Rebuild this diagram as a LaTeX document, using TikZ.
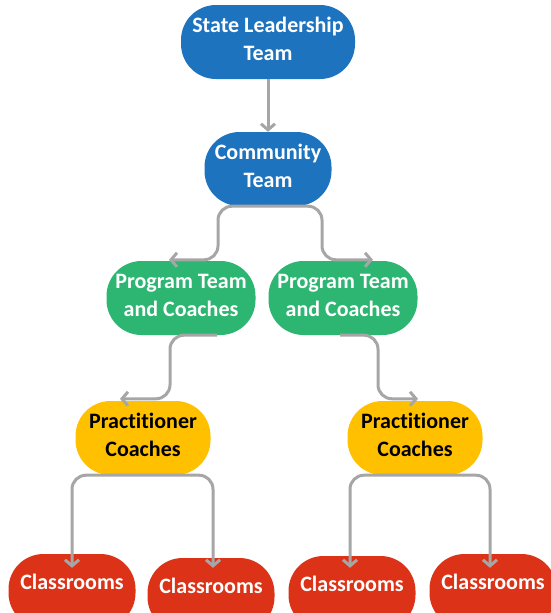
\documentclass[tikz,border=0pt]{standalone}
\usepackage{fontspec}
\setmainfont{Carlito}[Ligatures=NoCommon]
\usetikzlibrary{arrows.meta}

\definecolor{teamblue}{HTML}{1E73BE}
\definecolor{proggreen}{HTML}{2DB672}
\definecolor{coachyellow}{HTML}{FFC000}
\definecolor{roomred}{HTML}{DC3318}
\definecolor{linkgray}{HTML}{A6A6A6}

\tikzset{
  box/.style={rounded corners=35pt, minimum height=74pt, inner sep=0pt,
    align=center, text depth=6pt, text=white,
    font=\fontsize{22}{28}\selectfont\bfseries},
  roombox/.style={fill=roomred, rounded corners=35pt, minimum height=74pt,
    minimum width=127pt, inner sep=0pt, text depth=18pt, text=white,
    font=\fontsize{22}{28}\selectfont\bfseries},
  link/.style={draw=linkgray, line width=3pt, rounded corners=14pt,
    -{Straight Barb[length=6pt,width=14pt]}},
}

\begin{document}
\begin{tikzpicture}[x=1pt, y=-1pt]
            \useasboundingbox (0,0) rectangle (551,613);
            \node[box, fill=teamblue, minimum width=174pt] (slt) at (268, 42) {State Leadership\\Team};
            \node[box, fill=teamblue, minimum width=127pt] (comm) at (268, 169) {Community\\Team};
            \node[box, fill=proggreen, minimum width=149pt] (progL) at (181, 298) {Program Team\\and Coaches};
            \node[box, fill=proggreen, minimum width=149pt] (progR) at (343, 298) {Program Team\\and Coaches};
            \node[box, fill=coachyellow, text=black, minimum width=135pt] (pracL) at (143, 438) {Practitioner\\Coaches};
            \node[box, fill=coachyellow, text=black, minimum width=135pt] (pracR) at (415, 438) {Practitioner\\Coaches};
            \node[roombox] (clsA) at (72, 591) {Classrooms};
            \node[roombox] (clsB) at (211, 595) {Classrooms};
            \node[roombox] (clsC) at (352, 593) {Classrooms};
            \node[roombox] (clsD) at (493, 591) {Classrooms};
            \draw[link] (slt) -- (comm);
            \draw[link] (comm.south) -- ++(-50, 0) |- ([xshift=-12pt, yshift=1pt]progL.north);
            \draw[link] (comm.south) -- ++(54, 0) |- ([xshift=30pt, yshift=1pt]progR.north);
            \draw[link] ([xshift=36pt]progL.south) -- ++(-47, 0) |- ([xshift=-23pt, yshift=2pt]pracL.north);
            \draw[link] ([xshift=-3pt]progR.south) -- ++(38, 0) |- ([xshift=3pt, yshift=2pt]pracR.north);
            \draw[link] (pracL.south) -| ([yshift=-14pt]clsA.north);
            \draw[link] (pracL.south) -| ([xshift=2pt, yshift=-10pt]clsB.north);
            \draw[link] (pracR.south) -| ([xshift=-2pt, yshift=-12pt]clsC.north);
            \draw[link] (pracR.south) -| ([xshift=-3pt, yshift=-14pt]clsD.north);
    \end{tikzpicture}
\end{document}
